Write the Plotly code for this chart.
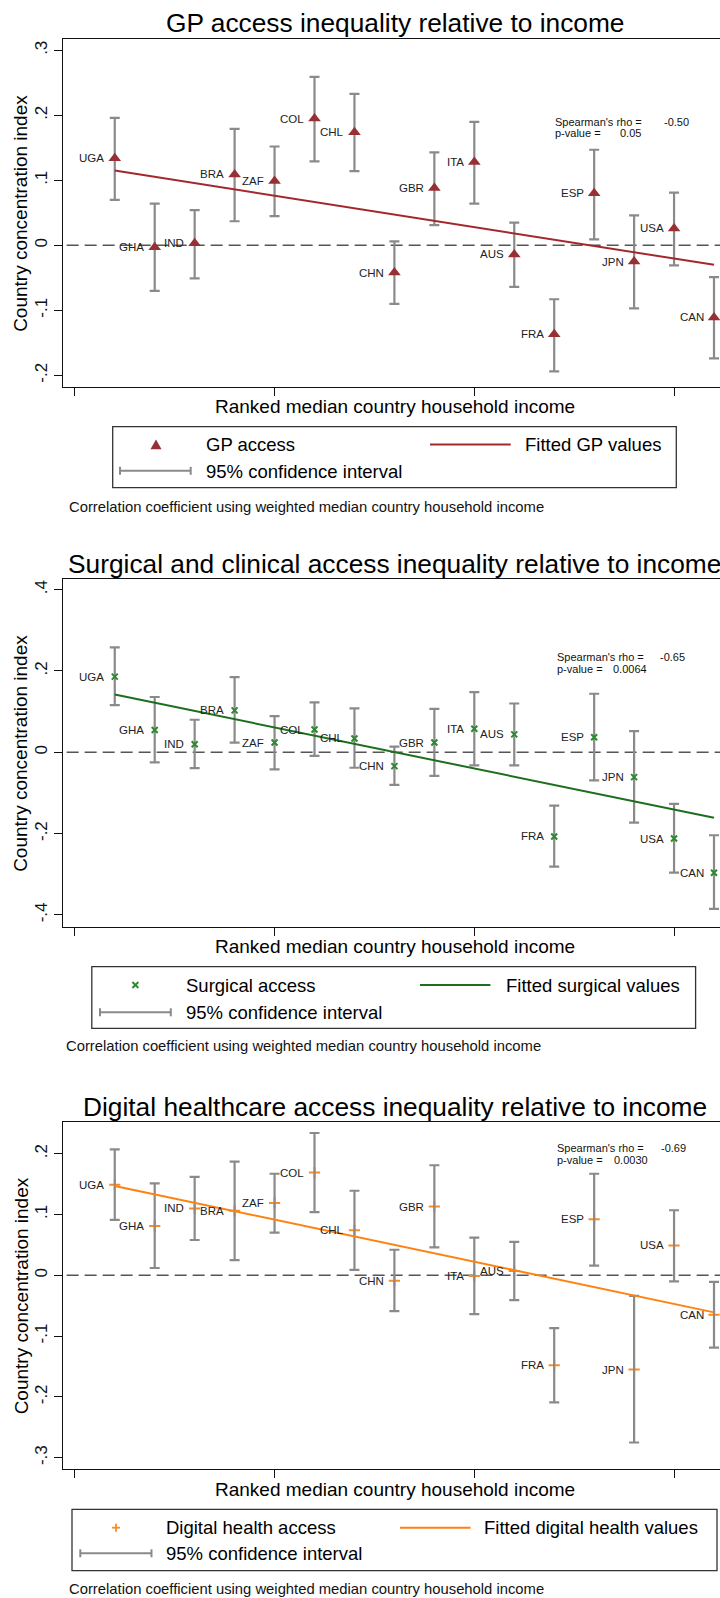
import plotly.graph_objects as go

# ---------------- data ----------------
countries = ["UGA", "GHA", "IND", "BRA", "ZAF", "COL", "CHL", "CHN",
             "GBR", "ITA", "AUS", "FRA", "ESP", "JPN", "USA", "CAN"]
income_rank = [1, 2, 3, 4, 5, 6, 7, 8, 9, 10, 11, 12, 13, 14, 15, 16]
x_tick_vals = [0, 5, 10, 15]

gp_value = [0.134, -0.003, 0.003, 0.109, 0.099, 0.195, 0.174, -0.042,
            0.088, 0.128, -0.014, -0.137, 0.080, -0.025, 0.026, -0.111]
gp_upper = [0.196, 0.064, 0.054, 0.179, 0.152, 0.259, 0.233, 0.006,
            0.143, 0.190, 0.035, -0.083, 0.147, 0.046, 0.081, -0.049]
gp_lower = [0.070, -0.070, -0.051, 0.037, 0.045, 0.129, 0.114, -0.090,
            0.031, 0.064, -0.064, -0.194, 0.009, -0.097, -0.031, -0.174]
gp_fit_x = [1, 16]
gp_fit_y = [0.115, -0.030]
gp_ticks = [-0.2, -0.1, 0, 0.1, 0.2, 0.3]
gp_ticktext = ["-.2", "-.1", "0", ".1", ".2", ".3"]
gp_rho, gp_p = "-0.50", "0.05"

sg_value = [0.186, 0.055, 0.020, 0.103, 0.024, 0.056, 0.034, -0.034,
            0.024, 0.058, 0.044, -0.207, 0.037, -0.061, -0.212, -0.296]
sg_upper = [0.258, 0.136, 0.080, 0.185, 0.089, 0.123, 0.108, 0.014,
            0.107, 0.148, 0.120, -0.131, 0.144, 0.052, -0.127, -0.204]
sg_lower = [0.116, -0.025, -0.039, 0.024, -0.042, -0.009, -0.038, -0.080,
            -0.058, -0.032, -0.032, -0.281, -0.069, -0.173, -0.296, -0.385]
sg_fit_x = [1, 16]
sg_fit_y = [0.142, -0.161]
sg_ticks = [-0.4, -0.2, 0, 0.2, 0.4]
sg_ticktext = ["-.4", "-.2", "0", ".2", ".4"]
sg_rho, sg_p = "-0.65", "0.0064"

dh_value = [0.149, 0.081, 0.110, 0.106, 0.119, 0.169, 0.074, -0.009,
            0.113, -0.001, 0.007, -0.148, 0.092, -0.155, 0.049, -0.065]
dh_upper = [0.207, 0.151, 0.162, 0.187, 0.167, 0.234, 0.139, 0.042,
            0.181, 0.062, 0.055, -0.087, 0.167, -0.034, 0.107, -0.011]
dh_lower = [0.091, 0.012, 0.058, 0.025, 0.070, 0.104, 0.009, -0.059,
            0.046, -0.064, -0.041, -0.209, 0.016, -0.275, -0.010, -0.119]
dh_fit_x = [1, 16]
dh_fit_y = [0.147, -0.061]
dh_ticks = [-0.3, -0.2, -0.1, 0, 0.1, 0.2]
dh_ticktext = ["-.3", "-.2", "-.1", "0", ".1", ".2"]
dh_rho, dh_p = "-0.69", "0.0030"

# ---------------- style / layout ----------------
W, H = 720, 1598
FONT = "Liberation Sans, Arial, Helvetica, sans-serif"
GREY = "#8a8a8a"
X_RANGE = [-0.303, 16.15]


def px(x):
    return x / W


def py(y):
    return 1 - y / H


X_DOMAIN = [px(62.7), 1.0]

panels = [
    dict(title="GP access inequality relative to income", title_y=23.5,
         top=39, bottom=386.7, yrange=[-0.2175, 0.3174],
         ticks=gp_ticks, ticktext=gp_ticktext,
         value=gp_value, upper=gp_upper, lower=gp_lower,
         fit_x=gp_fit_x, fit_y=gp_fit_y, rho=gp_rho, p=gp_p,
         sym="triangle-up", msize=11, mcolor="#963034", lcolor="#a3282e",
         bars_on_top=False,
         rho_y=(121.7, 133.3), rho_x=(553, 661.7, 618),
         xtitle_y=406, box=(112.7, 426.7, 676.3, 487.7),
         row1_y=444.5, row2_y=470.8, sym_x=156, text_x=204,
         line_x=(430, 510.7), fit_text_x=522.7, ci_x=(120, 190.7),
         name="GP access", fit_name="Fitted GP values",
         note_x=66.6, note_y=506.7),
    dict(title="Surgical and clinical access inequality relative to income",
         title_y=563.5,
         top=579, bottom=926.7, yrange=[-0.4288, 0.4261],
         ticks=sg_ticks, ticktext=sg_ticktext,
         value=sg_value, upper=sg_upper, lower=sg_lower,
         fit_x=sg_fit_x, fit_y=sg_fit_y, rho=sg_rho, p=sg_p,
         sym="x-thin", msize=6, mcolor="#2b8a2b", lcolor="#1d6e1d",
         bars_on_top=False,
         rho_y=(657.3, 669), rho_x=(554.6, 657.5, 610.7),
         xtitle_y=946, box=(91.8, 966.7, 695.6, 1028.3),
         row1_y=985, row2_y=1012.3, sym_x=135.4, text_x=183.7,
         line_x=(420, 490.4), fit_text_x=504, ci_x=(100, 170.8),
         name="Surgical access", fit_name="Fitted surgical values",
         note_x=64.3, note_y=1046),
    dict(title="Digital healthcare access inequality relative to income",
         title_y=1106.5,
         top=1121.7, bottom=1469, yrange=[-0.3186, 0.2526],
         ticks=dh_ticks, ticktext=dh_ticktext,
         value=dh_value, upper=dh_upper, lower=dh_lower,
         fit_x=dh_fit_x, fit_y=dh_fit_y, rho=dh_rho, p=dh_p,
         sym="cross-thin", msize=8, mcolor="#ff8a1f", lcolor="#ff8210",
         bars_on_top=True,
         rho_y=(1148.3, 1160), rho_x=(554.6, 659, 611.6),
         xtitle_y=1489, box=(72, 1509.3, 717, 1570.7),
         row1_y=1527.7, row2_y=1553.3, sym_x=116, text_x=164,
         line_x=(400, 470.6), fit_text_x=482, ci_x=(80.3, 151.5),
         name="Digital health access",
         fit_name="Fitted digital health values",
         note_x=66.6, note_y=1589),
]

fig = go.Figure()
annotations = []
shapes = []


def text(x, y, s, size, xanchor="left", color="#111", angle=0):
    annotations.append(dict(
        x=px(x), y=py(y), xref="paper", yref="paper", text=s,
        showarrow=False, xanchor=xanchor, yanchor="middle", textangle=angle,
        font=dict(family=FONT, size=size, color=color)))


for i, p in enumerate(panels, start=1):
    xa = "x" if i == 1 else f"x{i}"
    ya = "y" if i == 1 else f"y{i}"
    xkey = "xaxis" if i == 1 else f"xaxis{i}"
    ykey = "yaxis" if i == 1 else f"yaxis{i}"

    err = go.Scatter(
        x=income_rank, y=p["value"], mode="markers", xaxis=xa, yaxis=ya,
        marker=dict(size=1, color="rgba(0,0,0,0)"),
        error_y=dict(type="data", symmetric=False,
                     array=[u - v for u, v in zip(p["upper"], p["value"])],
                     arrayminus=[v - l for v, l in zip(p["value"], p["lower"])],
                     color=GREY, thickness=2.2, width=5),
        showlegend=False, hoverinfo="skip", cliponaxis=False)
    if p["sym"] in ("x-thin", "cross-thin"):
        mk = dict(symbol=p["sym"], size=p["msize"], color=p["mcolor"],
                  line=dict(color=p["mcolor"], width=2))
    else:
        mk = dict(symbol=p["sym"], size=p["msize"], color=p["mcolor"],
                  line=dict(width=0))
    pts = go.Scatter(x=income_rank, y=p["value"], mode="markers",
                     xaxis=xa, yaxis=ya, marker=mk, name=p["name"],
                     showlegend=False, cliponaxis=False)
    fit = go.Scatter(x=p["fit_x"], y=p["fit_y"], mode="lines",
                     xaxis=xa, yaxis=ya, name=p["fit_name"],
                     line=dict(color=p["lcolor"], width=2), showlegend=False)
    if p["bars_on_top"]:
        fig.add_trace(pts)
        fig.add_trace(err)
        fig.add_trace(fit)
    else:
        fig.add_trace(err)
        fig.add_trace(fit)
        fig.add_trace(pts)

    dom = [py(p["bottom"]), py(p["top"])]
    fig.update_layout(**{
        xkey: dict(domain=X_DOMAIN, range=X_RANGE, anchor=ya,
                   tickvals=x_tick_vals, showticklabels=False,
                   ticks="outside", ticklen=8, tickwidth=1.3,
                   tickcolor="#111", showline=True, linecolor="#111",
                   linewidth=1.3, mirror=True, showgrid=False,
                   zeroline=False, automargin=False),
        ykey: dict(domain=dom, range=p["yrange"], anchor=xa,
                   tickvals=p["ticks"], ticktext=p["ticktext"],
                   tickangle=-90, ticks="outside", ticklen=8, tickwidth=1.3,
                   tickcolor="#111", showline=True, linecolor="#111",
                   linewidth=1.3, showgrid=False, zeroline=False,
                   automargin=False,
                   tickfont=dict(family=FONT, size=17, color="#111")),
    })

    # zero reference line
    shapes.append(dict(type="line", xref=f"{xa} domain", yref=ya,
                       x0=0.006, x1=1, y0=0, y1=0, layer="below",
                       line=dict(color="#555", width=1.5, dash="12px,6px")))

    # country labels
    for c, xv, yv in zip(countries, income_rank, p["value"]):
        annotations.append(dict(x=xv, y=yv, xref=xa, yref=ya, text=c,
                                showarrow=False, xanchor="right",
                                yanchor="middle", xshift=-8.5,
                                font=dict(family=FONT, size=11.5,
                                          color="#222")))

    # titles
    text(394.5, p["title_y"], p["title"], 26.3, xanchor="center", color="#000")
    text(394.5, p["xtitle_y"], "Ranked median country household income", 19,
         xanchor="center", color="#000")
    text(21, (p["top"] + p["bottom"]) / 2 + 1, "Country concentration index",
         19, xanchor="center", color="#000", angle=-90)

    # Spearman
    text(p["rho_x"][0], p["rho_y"][0], "Spearman's rho =", 11)
    text(p["rho_x"][1], p["rho_y"][0], p["rho"], 11)
    text(p["rho_x"][0], p["rho_y"][1], "p-value =", 11)
    text(p["rho_x"][2], p["rho_y"][1], p["p"], 11)

    # legend box
    x0, y0, x1, y1 = p["box"]
    shapes.append(dict(type="rect", xref="paper", yref="paper",
                       x0=px(x0), x1=px(x1), y0=py(y1), y1=py(y0),
                       line=dict(color="#333", width=1.3),
                       fillcolor="white"))
    sx, ry = p["sym_x"], p["row1_y"]
    if p["sym"] == "triangle-up":
        shapes.append(dict(
            type="path", xref="paper", yref="paper",
            path=(f"M {px(sx - 5.5)},{py(ry + 4.8)} L {px(sx + 5.5)},{py(ry + 4.8)} "
                  f"L {px(sx)},{py(ry - 5)} Z"),
            fillcolor=p["mcolor"], line=dict(width=0)))
    elif p["sym"] == "x-thin":
        for dx in (-1, 1):
            shapes.append(dict(type="line", xref="paper", yref="paper",
                               x0=px(sx - 3), x1=px(sx + 3),
                               y0=py(ry - 3 * dx), y1=py(ry + 3 * dx),
                               line=dict(color=p["mcolor"], width=1.8)))
    else:
        shapes.append(dict(type="line", xref="paper", yref="paper",
                           x0=px(sx - 4), x1=px(sx + 4), y0=py(ry), y1=py(ry),
                           line=dict(color=p["mcolor"], width=1.8)))
        shapes.append(dict(type="line", xref="paper", yref="paper",
                           x0=px(sx), x1=px(sx), y0=py(ry - 4), y1=py(ry + 4),
                           line=dict(color=p["mcolor"], width=1.8)))
    text(p["text_x"], ry, p["name"], 18.5, color="#000")
    shapes.append(dict(type="line", xref="paper", yref="paper",
                       x0=px(p["line_x"][0]), x1=px(p["line_x"][1]),
                       y0=py(ry), y1=py(ry),
                       line=dict(color=p["lcolor"], width=2)))
    text(p["fit_text_x"], ry, p["fit_name"], 18.5, color="#000")
    r2 = p["row2_y"]
    cx0, cx1 = p["ci_x"]
    shapes.append(dict(type="line", xref="paper", yref="paper",
                       x0=px(cx0), x1=px(cx1), y0=py(r2), y1=py(r2),
                       line=dict(color=GREY, width=2)))
    for cxx in (cx0, cx1):
        shapes.append(dict(type="line", xref="paper", yref="paper",
                           x0=px(cxx), x1=px(cxx), y0=py(r2 - 4), y1=py(r2 + 4),
                           line=dict(color=GREY, width=2)))
    text(p["text_x"], r2 + 0.5, "95% confidence interval", 18.5, color="#000")

    # note
    text(p["note_x"], p["note_y"],
         "Correlation coefficient using weighted median country household income",
         14.8, color="#111")

fig.update_layout(
    width=W, height=H, margin=dict(l=0, r=0, t=0, b=0, pad=0),
    paper_bgcolor="white", plot_bgcolor="white", showlegend=False,
    annotations=annotations, shapes=shapes,
    font=dict(family=FONT, color="#111"),
)

fig.write_html(
    "out.html",
    config={"displayModeBar": False},
    post_script=("document.documentElement.style.margin='0';"
                 "document.body.style.margin='0';"
                 "document.body.style.overflow='hidden';"),
)
